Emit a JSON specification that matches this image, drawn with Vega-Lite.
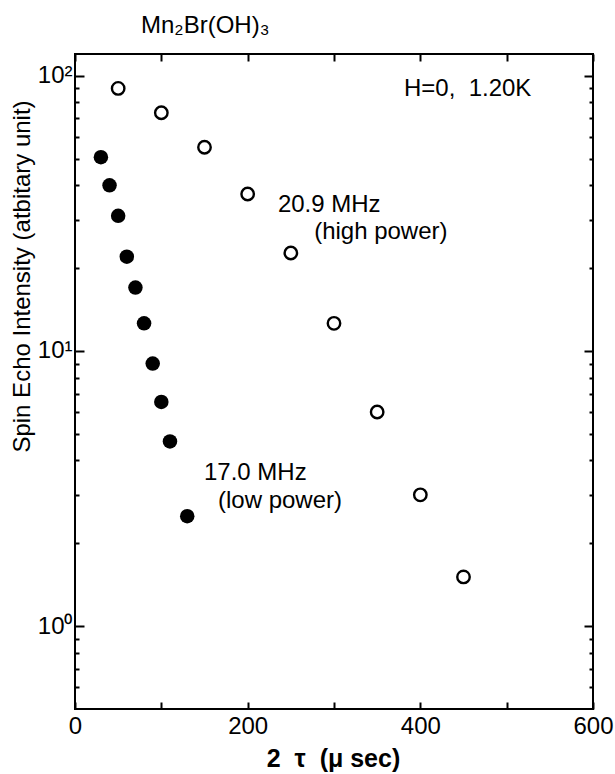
{
  "$schema": "https://vega.github.io/schema/vega-lite/v6.json",
  "width": 518,
  "height": 655,
  "autosize": {"type": "none"},
  "padding": {"left": 75, "top": 54, "right": 22, "bottom": 65},
  "background": "white",
  "title": {
    "text": "Mn₂Br(OH)₃",
    "anchor": "start",
    "frame": "group",
    "dx": 66,
    "offset": -4,
    "baseline": "alphabetic",
    "font": "Liberation Sans",
    "fontSize": 24,
    "fontWeight": "normal",
    "color": "#000"
  },
  "config": {
    "view": {"stroke": "#000", "strokeWidth": 2},
    "axis": {
      "grid": false,
      "domain": false,
      "tickColor": "#000",
      "tickWidth": 2,
      "labelFont": "Liberation Sans",
      "labelFontSize": 24,
      "labelColor": "#000",
      "titleFont": "Liberation Sans",
      "titleFontSize": 24,
      "titleFontWeight": "normal",
      "titleColor": "#000",
      "labelFlush": false,
      "labelOverlap": false
    },
    "text": {"font": "Liberation Sans", "fontSize": 24, "color": "#000"}
  },
  "resolve": {"axis": {"x": "independent", "y": "independent"}},
  "datasets": {
    "open": [
      {"t": 50, "v": 90},
      {"t": 100, "v": 73.4},
      {"t": 150, "v": 55},
      {"t": 200, "v": 37.2},
      {"t": 250, "v": 22.7},
      {"t": 300, "v": 12.6},
      {"t": 350, "v": 6.0},
      {"t": 400, "v": 3.0},
      {"t": 450, "v": 1.51}
    ],
    "filled": [
      {"t": 30, "v": 50.6},
      {"t": 40, "v": 40.0},
      {"t": 50, "v": 31.0},
      {"t": 60, "v": 22.0},
      {"t": 70, "v": 17.0},
      {"t": 80, "v": 12.6},
      {"t": 90, "v": 9.0},
      {"t": 100, "v": 6.53},
      {"t": 110, "v": 4.69},
      {"t": 130, "v": 2.51}
    ],
    "notesHigh": [
      {"t": 381, "v": 89.3, "label": "H=0,\u00a0 1.20K"},
      {"t": 235, "v": 33.9, "label": "20.9 MHz"},
      {"t": 277, "v": 27.1, "label": "(high power)"}
    ],
    "notesLow": [
      {"t": 149.4, "v": 3.59, "label": "17.0 MHz"},
      {"t": 165.6, "v": 2.84, "label": "(low power)"}
    ]
  },
  "layer": [
    {
      "data": {"name": "open"},
      "mark": {"type": "point", "shape": "circle", "filled": false, "size": 155, "strokeWidth": 2.4, "color": "#000", "opacity": 1},
      "encoding": {
        "x": {
          "field": "t", "type": "quantitative",
          "scale": {"domain": [0, 600], "nice": false, "zero": false},
          "axis": {
            "orient": "bottom",
            "offset": -7,
            "tickSize": 7,
            "values": [0, 100, 200, 300, 400, 500, 600],
            "labelExpr": "datum.value % 200 == 0 ? datum.label : ''",
            "labelPadding": 5,
            "title": "2 \u00a0τ \u00a0(μ sec)",
            "titleFontSize": 25,
            "titleFontWeight": "bold",
            "titleX": 258,
            "titleY": 56,
            "titleBaseline": "middle"
          }
        },
        "y": {
          "field": "v", "type": "quantitative",
          "scale": {"type": "log", "domain": [0.5, 120], "nice": false},
          "axis": {
            "orient": "left",
            "offset": -9,
            "tickSize": 9,
            "values": [1, 10, 100],
            "labelExpr": "datum.value == 100 ? '10²' : datum.value == 10 ? '10¹' : '10⁰'",
            "labelPadding": 3,
            "title": "Spin Echo Intensity (atbitary unit)",
            "titleAngle": -90,
            "titleX": -62,
            "titleY": 222,
            "titleAlign": "center",
            "titleBaseline": "middle"
          }
        }
      }
    },
    {
      "data": {"name": "filled"},
      "mark": {"type": "point", "shape": "circle", "filled": true, "size": 210, "color": "#000", "opacity": 1},
      "encoding": {
        "x": {
          "field": "t", "type": "quantitative",
          "axis": {
            "orient": "top",
            "offset": -7,
            "tickSize": 7,
            "values": [0, 100, 200, 300, 400, 500, 600],
            "labels": false,
            "title": null
          }
        },
        "y": {
          "field": "v", "type": "quantitative",
          "axis": {
            "orient": "right",
            "offset": -9,
            "tickSize": 9,
            "values": [1, 10, 100],
            "labels": false,
            "title": null
          }
        }
      }
    },
    {
      "data": {"name": "notesHigh"},
      "mark": {"type": "text", "align": "left", "baseline": "middle"},
      "encoding": {
        "x": {"field": "t", "type": "quantitative", "axis": null},
        "y": {
          "field": "v", "type": "quantitative",
          "axis": {
            "orient": "left",
            "offset": -4,
            "tickSize": 4,
            "values": [0.6, 0.7, 0.8, 0.9, 2, 3, 4, 5, 6, 7, 8, 9, 20, 30, 40, 50, 60, 70, 80, 90],
            "labels": false,
            "title": null
          }
        },
        "text": {"field": "label"}
      }
    },
    {
      "data": {"name": "notesLow"},
      "mark": {"type": "text", "align": "left", "baseline": "middle"},
      "encoding": {
        "x": {"field": "t", "type": "quantitative", "axis": null},
        "y": {
          "field": "v", "type": "quantitative",
          "axis": {
            "orient": "right",
            "offset": -4,
            "tickSize": 4,
            "values": [0.6, 0.7, 0.8, 0.9, 2, 3, 4, 5, 6, 7, 8, 9, 20, 30, 40, 50, 60, 70, 80, 90],
            "labels": false,
            "title": null
          }
        },
        "text": {"field": "label"}
      }
    }
  ]
}
